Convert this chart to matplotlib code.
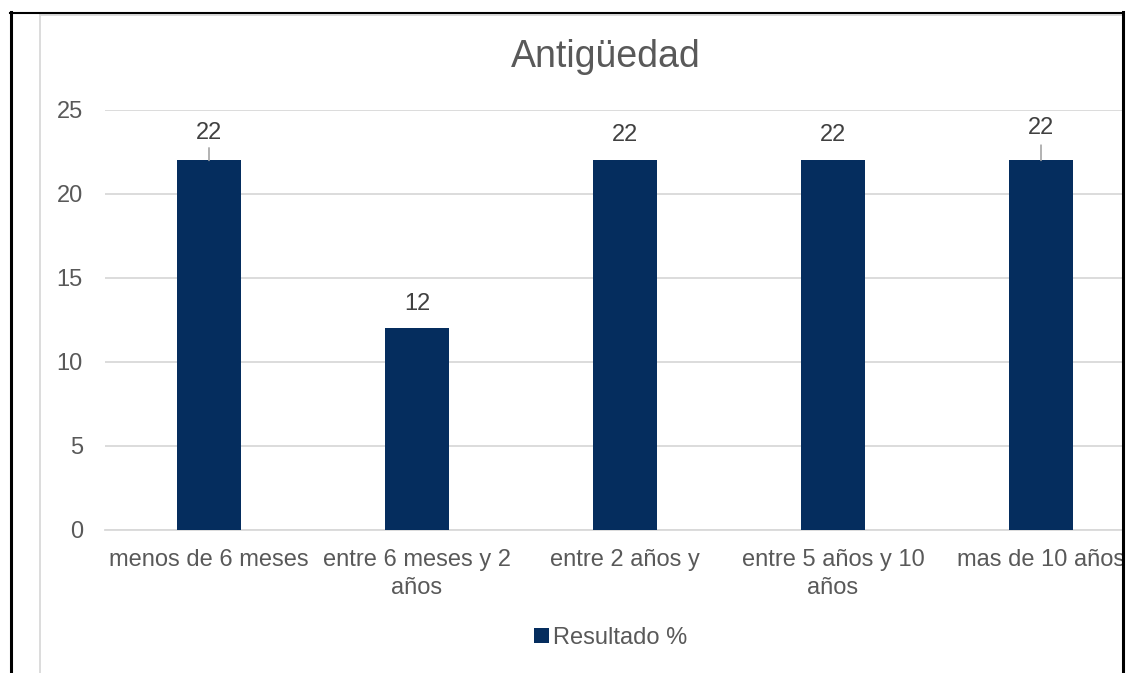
# Bar chart: Antigüedad (Resultado %)

import matplotlib.pyplot as plt
from matplotlib.lines import Line2D
from matplotlib.patches import Rectangle

categorias = ["menos de 6 meses", "entre 6 meses y 2\naños", "entre 2 años y",
              "entre 5 años y 10\naños", "mas de 10 años"]
resultado = [22, 12, 22, 22, 22]

# label offset above bar top (points) and leader line length (points)
label_off = [20, 17.5, 18, 18, 23]
leader_len = [9, 0, 0, 0, 11]

plt.rcParams['font.family'] = ['Liberation Sans', 'DejaVu Sans']

W, H = 1127, 673
fig = plt.figure(figsize=(W / 100, H / 100), dpi=100)
ax = fig.add_axes([105 / W, 143 / H, 1040 / W, 420 / H])

x = range(len(categorias))
bars = ax.bar(x, resultado, width=0.31, color='#052d5e', zorder=3, label='Resultado %')

for i, v in enumerate(resultado):
    if leader_len[i]:
        ax.annotate('', xy=(i, v), xytext=(0, leader_len[i]), textcoords='offset points',
                    arrowprops=dict(arrowstyle='-', color='#a6a6a6', lw=1.2,
                                    shrinkA=0, shrinkB=0))
    ax.annotate(str(v), xy=(i, v), xytext=(0, label_off[i]), textcoords='offset points',
                ha='center', va='center', fontsize=17, color='#404040')

ax.set_xlim(-0.5, len(categorias) - 0.5)
ax.set_ylim(0, 25)
ax.set_yticks(range(0, 26, 5))
ax.set_xticks(list(x))
ax.set_xticklabels(categorias, fontsize=17, color='#595959', linespacing=1.35)
ax.tick_params(axis='y', length=0, pad=16, labelsize=17, labelcolor='#595959')
ax.tick_params(axis='x', length=0, pad=14)
ax.grid(axis='y', color='#d9d9d9', lw=1.3, zorder=0)
for s in ['top', 'right', 'left']:
    ax.spines[s].set_visible(False)
ax.spines['bottom'].set_color('#d9d9d9')
ax.spines['bottom'].set_linewidth(1.3)

fig.text(606 / W, 1 - 57 / H, "Antigüedad", ha='center', va='center',
         fontsize=27, color='#595959')

fig.legend(handles=[bars], loc='center', bbox_to_anchor=(611 / W, 1 - 638 / H),
           frameon=False, fontsize=17, labelcolor='#595959', handlelength=0.6,
           handleheight=0.6, handletextpad=0.2)

# frame lines of the cropped screenshot
fig.add_artist(Rectangle((1123 / W, 0), 10 / W, 1, transform=fig.transFigure,
                         color='white', zorder=10))
fig.add_artist(Line2D([40 / W, 40 / W], [0, 1 - 14 / H], color='#d9d9d9', lw=1.3,
                      transform=fig.transFigure, zorder=11))
fig.add_artist(Line2D([40 / W, 1122 / W], [1 - 14.5 / H, 1 - 14.5 / H], color='#d9d9d9',
                      lw=1.3, transform=fig.transFigure, zorder=11))
fig.add_artist(Line2D([10.5 / W, 10.5 / W], [0, 1 - 12 / H], color='black', lw=2.2,
                      transform=fig.transFigure, zorder=12))
fig.add_artist(Line2D([9.5 / W, 1123 / W], [1 - 12.5 / H, 1 - 12.5 / H], color='black',
                      lw=1.5, transform=fig.transFigure, zorder=12))
fig.add_artist(Line2D([1122.5 / W, 1122.5 / W], [0, 1 - 12 / H], color='black', lw=2.2,
                      transform=fig.transFigure, zorder=12))

fig.savefig('out.png', dpi=100)
